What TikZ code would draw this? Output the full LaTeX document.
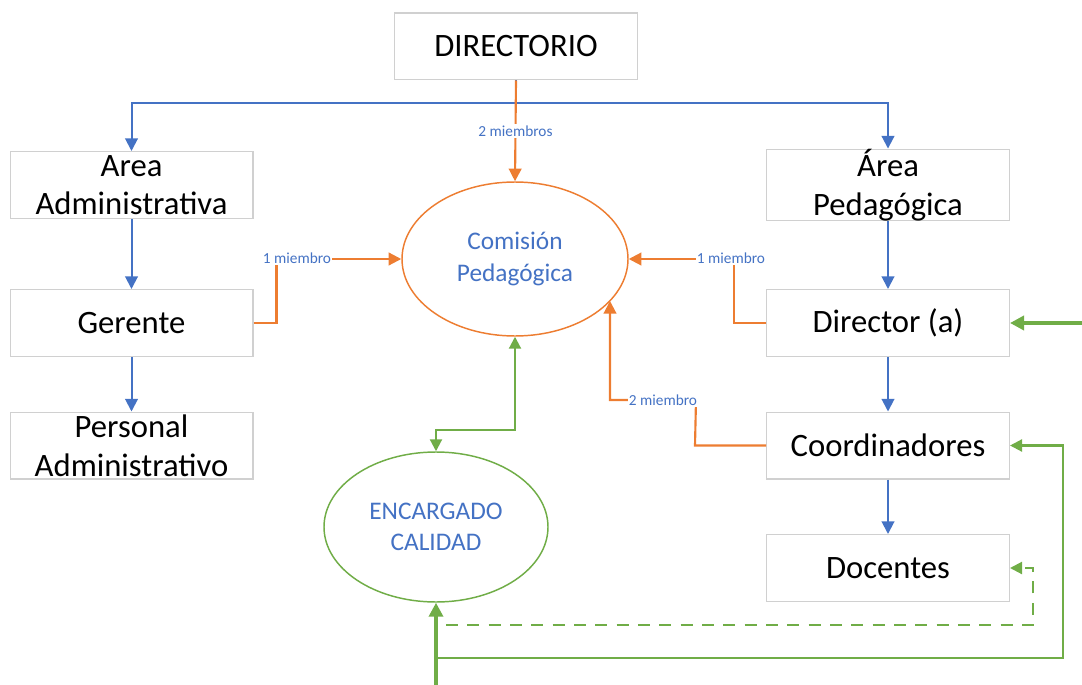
\documentclass[tikz,border=0pt]{standalone}
\usepackage{fontspec}
\setmainfont{Carlito}
\usetikzlibrary{arrows.meta,shapes.geometric}
\definecolor{cblue}{HTML}{4472C4}
\definecolor{corange}{HTML}{ED7D31}
\definecolor{cgreen}{HTML}{70AD47}
\definecolor{boxgray}{HTML}{D0D0D0}
\begin{document}
\begin{tikzpicture}[x=0.75pt,y=-0.75pt,
  box/.style={draw=boxgray, line width=1pt, minimum width=182pt, minimum height=50pt, inner sep=0pt, align=center, fill=white, font=\fontsize{24.5}{29}\selectfont},
  ell/.style={ellipse, line width=1.1pt, inner sep=0pt, align=center, text=cblue, fill=white, font=\fontsize{19}{23.5}\selectfont},
  lbl/.style={fill=white, text=cblue, inner sep=1pt, font=\fontsize{11.5}{13}\selectfont},
  bl/.style={draw=cblue, line width=1.5pt, -{Triangle[width=9.5pt,length=9.5pt]}},
  og/.style={draw=corange, line width=1.6pt, -{Triangle[width=9.5pt,length=9.5pt]}},
  gr/.style={draw=cgreen, line width=1.6pt, -{Triangle[width=9pt,length=9pt]}},
  grk/.style={draw=cgreen, line width=2.6pt, -{Triangle[width=10.5pt,length=10.5pt]}},
]
\useasboundingbox (0,0) rectangle (1082,685);

% boxes
\node[box] (dirr) at (516,46.5) {DIRECTORIO};
\node[box] (aa) at (131.5,185) {Area\\Administrativa};
\node[box] (ger) at (131.5,323) {Gerente};
\node[box] (pa) at (131.5,445.5) {Personal\\Administrativo};
\node[box] (ap) at (888,185) {Área\\Pedagógica};
\node[box] (dira) at (888,323) {Director (a)};
\node[box] (co) at (888,445.5) {Coordinadores};
\node[box] (doc) at (888,568) {Docentes};

% ellipses
\node[ell, draw=corange, minimum width=169.5pt, minimum height=115.5pt] (com) at (515,259) {Comisión\\Pedagógica};
\node[ell, draw=cgreen, minimum width=168pt, minimum height=112.5pt] (enc) at (436,527) {ENCARGADO\\CALIDAD};

% blue hierarchy
\coordinate (hb) at (516,103);
\draw[bl] (dirr.south) -- (hb) -| (aa.north);
\draw[bl] (hb) -| (ap.north);
\draw[bl] (aa) -- (ger);
\draw[bl] (ger) -- (pa);
\draw[bl] (ap) -- (dira);
\draw[bl] (dira) -- (co);
\draw[bl] (co) -- (doc);

% orange
\draw[og] (dirr.south) -- node[lbl] (l1) {2 miembros} (com.north);
\draw[og] (ger.east) -- ++(23,0) |- (com.west);
\node[lbl] (l2) at (297,258) {1 miembro};
\draw[og] (dira.west) -- ++(-32,0) |- (com.east);
\node[lbl] (l3) at (731,258) {1 miembro};
\coordinate (comse) at (610,301);
\draw[og] (co.west) -- ++(-71,0) -- (696,400) -- (610,400) -- (comse);
\node[lbl] (l4) at (663,400) {2 miembro};

% green
\draw[gr, {Triangle[width=9pt,length=9pt]}-{Triangle[width=9pt,length=9pt]}] (com.south) -- ++(0,93) -| (enc.north);
\coordinate (rin) at (1082,323);
\draw[grk] (rin) -- (dira.east);
\coordinate (bin) at (436,685);
\draw[grk] (bin) -- (enc.south);
\coordinate (j1) at (436,658);
\draw[gr] (j1) -- (1063,658) |- (co.east);
\coordinate (j2) at (446,625);
\draw[gr, dash pattern=on 9pt off 7pt] (j2) -- (1033,625) |- (doc.east);
\end{tikzpicture}
\end{document}
